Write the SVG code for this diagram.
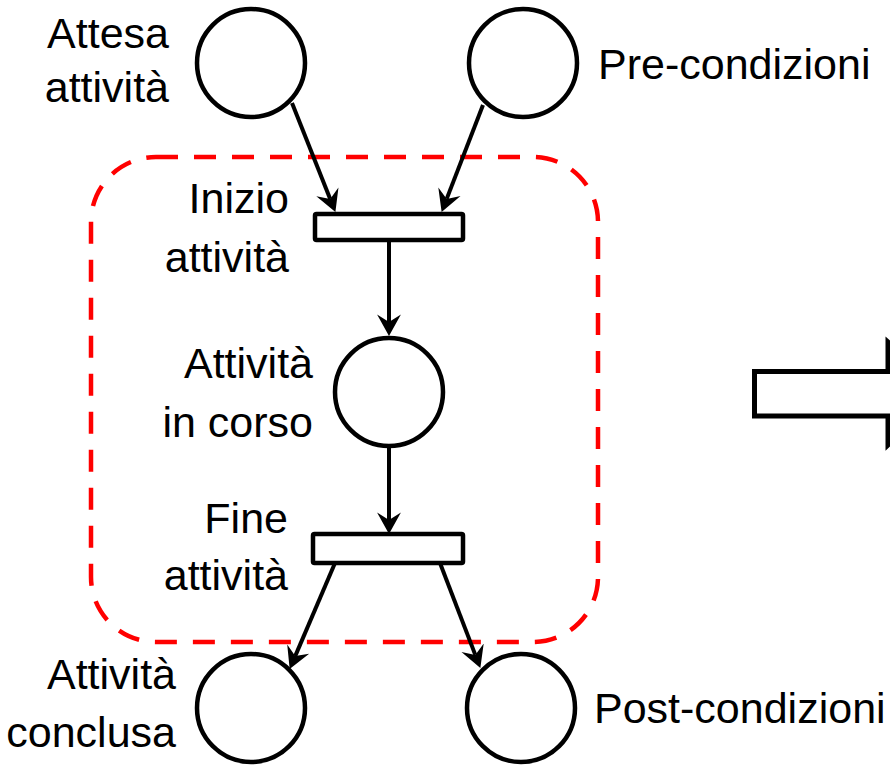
<svg xmlns="http://www.w3.org/2000/svg" width="890" height="765" viewBox="0 0 890 765">
  <style>
    .place { fill: #ffffff; stroke: #000000; stroke-width: 4.5; }
    .trans { fill: #ffffff; stroke: #000000; stroke-width: 4.5; }
    .arc { fill: none; stroke: #000000; stroke-width: 4; marker-end: url(#head); }
    .lbl { font-family: "Liberation Sans", Arial, sans-serif; font-size: 43px; fill: #000000; }
    .end { text-anchor: end; }
  </style>
  <defs>
    <marker id="head" markerUnits="userSpaceOnUse" markerWidth="24" markerHeight="26" viewBox="0 -12 22 24" refX="7" refY="0" orient="auto">
      <path d="M0,-11 L20,0 L0,11 L7,0 Z" fill="#000000"/>
    </marker>
  </defs>

  <rect width="890" height="765" fill="#ffffff"/>

  <!-- activity boundary -->
  <rect id="boundary" x="91" y="157" width="507" height="485" rx="65" ry="65" fill="none" stroke="#ff0000" stroke-width="4.5" stroke-dasharray="22 16"/>

  <!-- connectors -->
  <g id="connectors">
    <path class="arc" d="M292,103 L330.2,198.9"/>
    <path class="arc" d="M483,105 L446.7,198.9"/>
    <path class="arc" d="M389,240 L389,322"/>
    <path class="arc" d="M389,448 L389,520"/>
    <path class="arc" d="M335,563 L295.2,656.1"/>
    <path class="arc" d="M440,563 L475.3,654.9"/>
  </g>

  <g id="attesa">
    <circle class="place" cx="251" cy="63" r="54"/>
    <text class="lbl end" x="169" y="48">Attesa</text>
    <text class="lbl end" x="169" y="102">attività</text>
  </g>

  <g id="precondizioni">
    <circle class="place" cx="523" cy="63" r="54"/>
    <text class="lbl" x="598" y="79">Pre-condizioni</text>
  </g>

  <g id="inizio">
    <rect class="trans" x="315" y="214" width="148" height="26" rx="1.5"/>
    <text class="lbl end" x="289" y="213">Inizio</text>
    <text class="lbl end" x="289" y="272">attività</text>
  </g>

  <g id="incorso">
    <circle class="place" cx="389" cy="392" r="54"/>
    <text class="lbl end" x="313" y="378">Attività</text>
    <text class="lbl end" x="313" y="437">in corso</text>
  </g>

  <g id="fine">
    <rect class="trans" x="313" y="534" width="150" height="29" rx="1.5"/>
    <text class="lbl end" x="288" y="533">Fine</text>
    <text class="lbl end" x="288" y="590">attività</text>
  </g>

  <g id="conclusa">
    <circle class="place" cx="251" cy="708" r="54"/>
    <text class="lbl end" x="176" y="689">Attività</text>
    <text class="lbl end" x="176" y="747">conclusa</text>
  </g>

  <g id="postcondizioni">
    <circle class="place" cx="521" cy="708" r="54"/>
    <text class="lbl" x="594" y="723">Post-condizioni</text>
  </g>

  <!-- block arrow leading off to the right -->
  <g id="blockarrow">
    <polygon points="754.5,371.5 888,371.5 888,342 945,393 888,445 888,416 754.5,416" fill="#ffffff" stroke="#000000" stroke-width="5" stroke-linejoin="miter"/>
  </g>
</svg>
